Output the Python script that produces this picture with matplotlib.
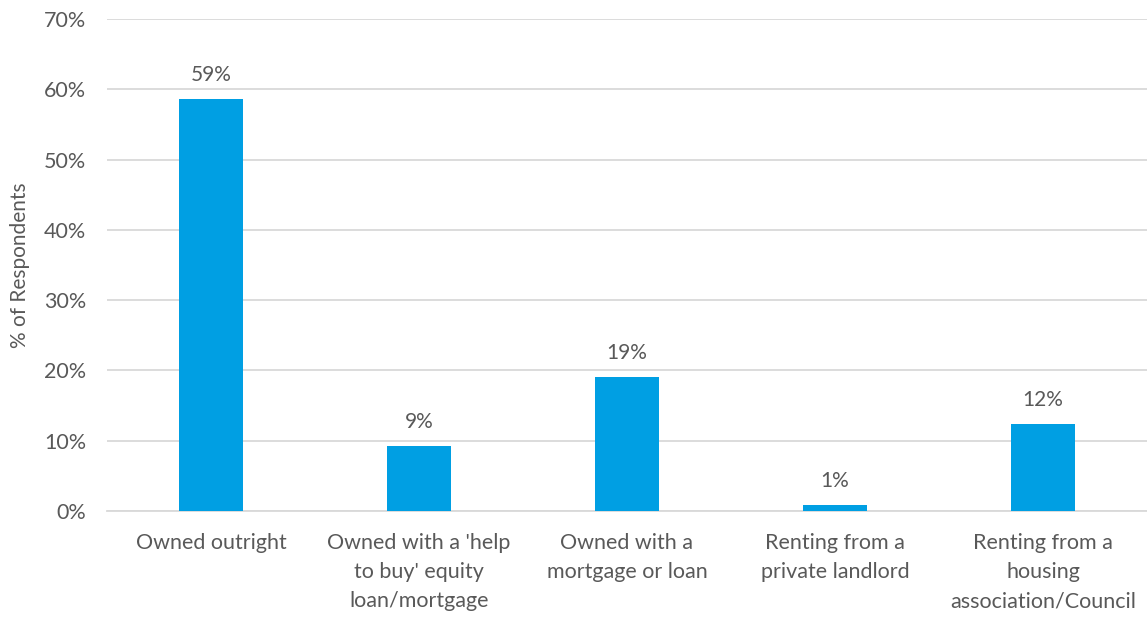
import numpy as np
import matplotlib
matplotlib.use("Agg")
import matplotlib.pyplot as plt
from matplotlib.ticker import PercentFormatter

categories = [
    "Owned outright",
    "Owned with a 'help\nto buy' equity\nloan/mortgage",
    "Owned with a\nmortgage or loan",
    "Renting from a\nprivate landlord",
    "Renting from a\nhousing\nassociation/Council",
]
share = [58.6, 9.2, 19.1, 0.8, 12.4]
y_ticks = [0, 10, 20, 30, 40, 50, 60, 70]

text_grey = "#595959"
bar_blue = "#009FE3"

plt.rcParams["font.family"] = ["Lato", "DejaVu Sans"]

fig = plt.figure(figsize=(11.47, 6.17), dpi=100)
ax = fig.add_axes([107 / 1147, 106 / 617, 1040 / 1147, 492 / 617])

x = np.arange(len(categories))
bars = ax.bar(x, share, width=0.31, color=bar_blue, zorder=3)

for b, v in zip(bars, share):
    ax.annotate("{:.0f}%".format(v), (b.get_x() + b.get_width() / 2, v),
                xytext=(0, 10), textcoords="offset points",
                ha="center", va="bottom", fontsize=15, color=text_grey)

ax.set_xlim(-0.5, len(categories) - 0.5)
ax.set_ylim(0, 70)
ax.set_yticks(y_ticks)
ax.yaxis.set_major_formatter(PercentFormatter(decimals=0))
ax.set_xticks(x)
ax.set_xticklabels(categories, fontsize=15.5, color=text_grey, linespacing=1.57)
ax.tick_params(axis="y", labelsize=15.5, labelcolor=text_grey, length=0, pad=15)
ax.tick_params(axis="x", length=0, pad=16)

ax.grid(axis="y", color="#D9D9D9", linewidth=1.3, zorder=0)
for s in ["top", "right", "left"]:
    ax.spines[s].set_visible(False)
ax.spines["bottom"].set_color("#D9D9D9")
ax.spines["bottom"].set_linewidth(1.3)

ax.set_ylabel("% of Respondents", fontsize=15, color=text_grey, labelpad=10)

fig.savefig("out.png", dpi=100)
